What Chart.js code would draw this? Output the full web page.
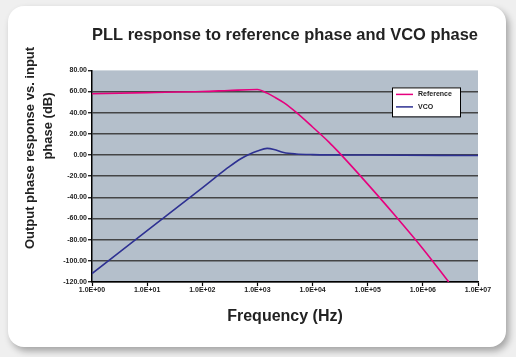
<!DOCTYPE html>
<html>
<head>
<meta charset="utf-8">
<script src="https://cdn.jsdelivr.net/npm/chart.js@4.4.1/dist/chart.umd.min.js"></script>
<style>
  html, body { margin: 0; padding: 0; background: #efefef; width: 516px; height: 357px; overflow: hidden; }
  #card { position: absolute; left: 8px; top: 6px; width: 498px; height: 341px; background: #fff; border-radius: 16px; box-shadow: 3px 4px 7px rgba(0,0,0,0.32); }
  #wrap { position: absolute; left: 0; top: 0; width: 516px; height: 357px; }
</style>
</head>
<body>
<div id="card"></div>
<div id="wrap"><canvas id="c" width="516" height="357"></canvas></div>
<script>
// ---- data ----
const titleText = 'PLL response to reference phase and VCO phase';
const xTitle = 'Frequency (Hz)';
const yTitleLines = ['Output phase response vs. input', 'phase (dB)'];
const seriesNames = ['Reference', 'VCO'];

const refFreq = [1, 10, 100, 300, 1000, 1500, 2000, 3000, 5000, 10000, 20000, 30000, 50000, 100000, 300000, 1000000, 2950000];
const refVals = [58, 59, 60, 61, 62, 58.5, 55, 49.5, 40.5, 26.5, 12, 2.5, -10, -27.5, -56, -88.5, -120];

const vcoFreq = [1, 10, 100, 200, 300, 500, 700, 1000, 1500, 2000, 3000, 5000, 10000, 100000, 10000000];
const vcoVals = [-112, -71.5, -31, -18.5, -11.5, -3.5, 0.5, 3.8, 6.3, 5.3, 2.4, 1, 0.4, 0, -0.5];

const xTickValues = [1, 10, 100, 1000, 10000, 100000, 1000000, 10000000];
const xTickLabels = ['1.0E+00', '1.0E+01', '1.0E+02', '1.0E+03', '1.0E+04', '1.0E+05', '1.0E+06', '1.0E+07'];
const yMin = -120, yMax = 80, yStep = 20;

const colors = ['#e6007e', '#2e3192'];
const FONT = "'Liberation Sans', Arial, sans-serif";

const plotBg = {
  id: 'plotBg',
  beforeDraw(chart) {
    const {ctx, chartArea: a} = chart;
    ctx.save();
    ctx.fillStyle = '#b4bfcb';
    ctx.fillRect(a.left, a.top, a.right - a.left, a.bottom - a.top);
    ctx.restore();
  }
};

const extras = {
  id: 'extras',
  afterDraw(chart) {
    const {ctx, chartArea: a} = chart;
    // y axis title
    ctx.save();
    ctx.fillStyle = '#222';
    ctx.font = 'bold 13px ' + FONT;
    ctx.textAlign = 'center';
    ctx.textBaseline = 'middle';
    const centers = [[30, 148], [48, 126]];
    yTitleLines.forEach((t, i) => {
      ctx.save();
      ctx.translate(centers[i][0], centers[i][1]);
      ctx.rotate(-Math.PI / 2);
      ctx.fillText(t, 0, 0);
      ctx.restore();
    });
    ctx.restore();
    // legend
    const bx = a.right - 86, by = a.top + 17, bw = 68, bh = 29;
    ctx.save();
    ctx.fillStyle = '#fff';
    ctx.fillRect(bx, by, bw, bh);
    ctx.strokeStyle = '#000';
    ctx.lineWidth = 1;
    ctx.strokeRect(bx + 0.5, by + 0.5, bw, bh);
    ctx.font = 'bold 7px ' + FONT;
    ctx.textBaseline = 'middle';
    ctx.textAlign = 'left';
    chart.data.datasets.forEach((ds, i) => {
      const yy = by + 7 + i * 12.5;
      ctx.strokeStyle = ds.borderColor;
      ctx.lineWidth = 1.5;
      ctx.beginPath();
      ctx.moveTo(bx + 4, yy);
      ctx.lineTo(bx + 21, yy);
      ctx.stroke();
      ctx.fillStyle = '#222';
      ctx.fillText(ds.label, bx + 26, yy);
    });
    ctx.restore();
  }
};

new Chart(document.getElementById('c'), {
  type: 'line',
  data: {
    datasets: [
      { label: seriesNames[0], data: refFreq.map((f, i) => ({x: f, y: refVals[i]})), borderColor: colors[0], borderWidth: 1.6, pointRadius: 0, cubicInterpolationMode: 'monotone', fill: false },
      { label: seriesNames[1], data: vcoFreq.map((f, i) => ({x: f, y: vcoVals[i]})), borderColor: colors[1], borderWidth: 1.6, pointRadius: 0, cubicInterpolationMode: 'monotone', fill: false }
    ]
  },
  options: {
    responsive: false,
    animation: false,
    layout: { padding: { left: 0, right: 38, top: 25, bottom: 0 } },
    plugins: {
      legend: { display: false },
      tooltip: { enabled: false },
      title: {
        display: true, text: titleText, fullSize: false, color: '#222',
        font: { family: FONT, size: 17, weight: 'bold' },
        padding: { top: 0, bottom: 25 }
      }
    },
    scales: {
      x: {
        type: 'logarithmic', min: 1, max: 10000000,
        afterBuildTicks(scale) { scale.ticks = xTickValues.map(v => ({ value: v })); },
        afterFit(scale) { scale.height = 75; },
        ticks: {
          autoSkip: false, maxRotation: 0, padding: 0, color: '#222',
          font: { family: FONT, size: 7, weight: 'bold' },
          callback: (v, i) => xTickLabels[i]
        },
        grid: { drawOnChartArea: false, drawTicks: true, tickLength: 4, tickColor: '#000', tickWidth: 1.2 },
        border: { color: '#000', width: 1.5 },
        title: {
          display: true, text: xTitle, color: '#222',
          font: { family: FONT, size: 16, weight: 'bold' },
          padding: { top: 0, bottom: 31 }
        }
      },
      y: {
        min: yMin, max: yMax,
        afterFit(scale) { scale.width = 92; },
        ticks: {
          stepSize: yStep, padding: 1, color: '#222',
          font: { family: FONT, size: 7, weight: 'bold' },
          callback: v => Number(v).toFixed(2)
        },
        grid: {
          color: ctx => (ctx.tick && ctx.tick.value === yMax) ? 'rgba(0,0,0,0)' : 'rgba(55,55,55,0.9)',
          lineWidth: 1.5, tickLength: 4, tickColor: '#000', tickWidth: 1.2
        },
        border: { color: '#000', width: 1.5 }
      }
    }
  },
  plugins: [plotBg, extras]
});
</script>
</body>
</html>
